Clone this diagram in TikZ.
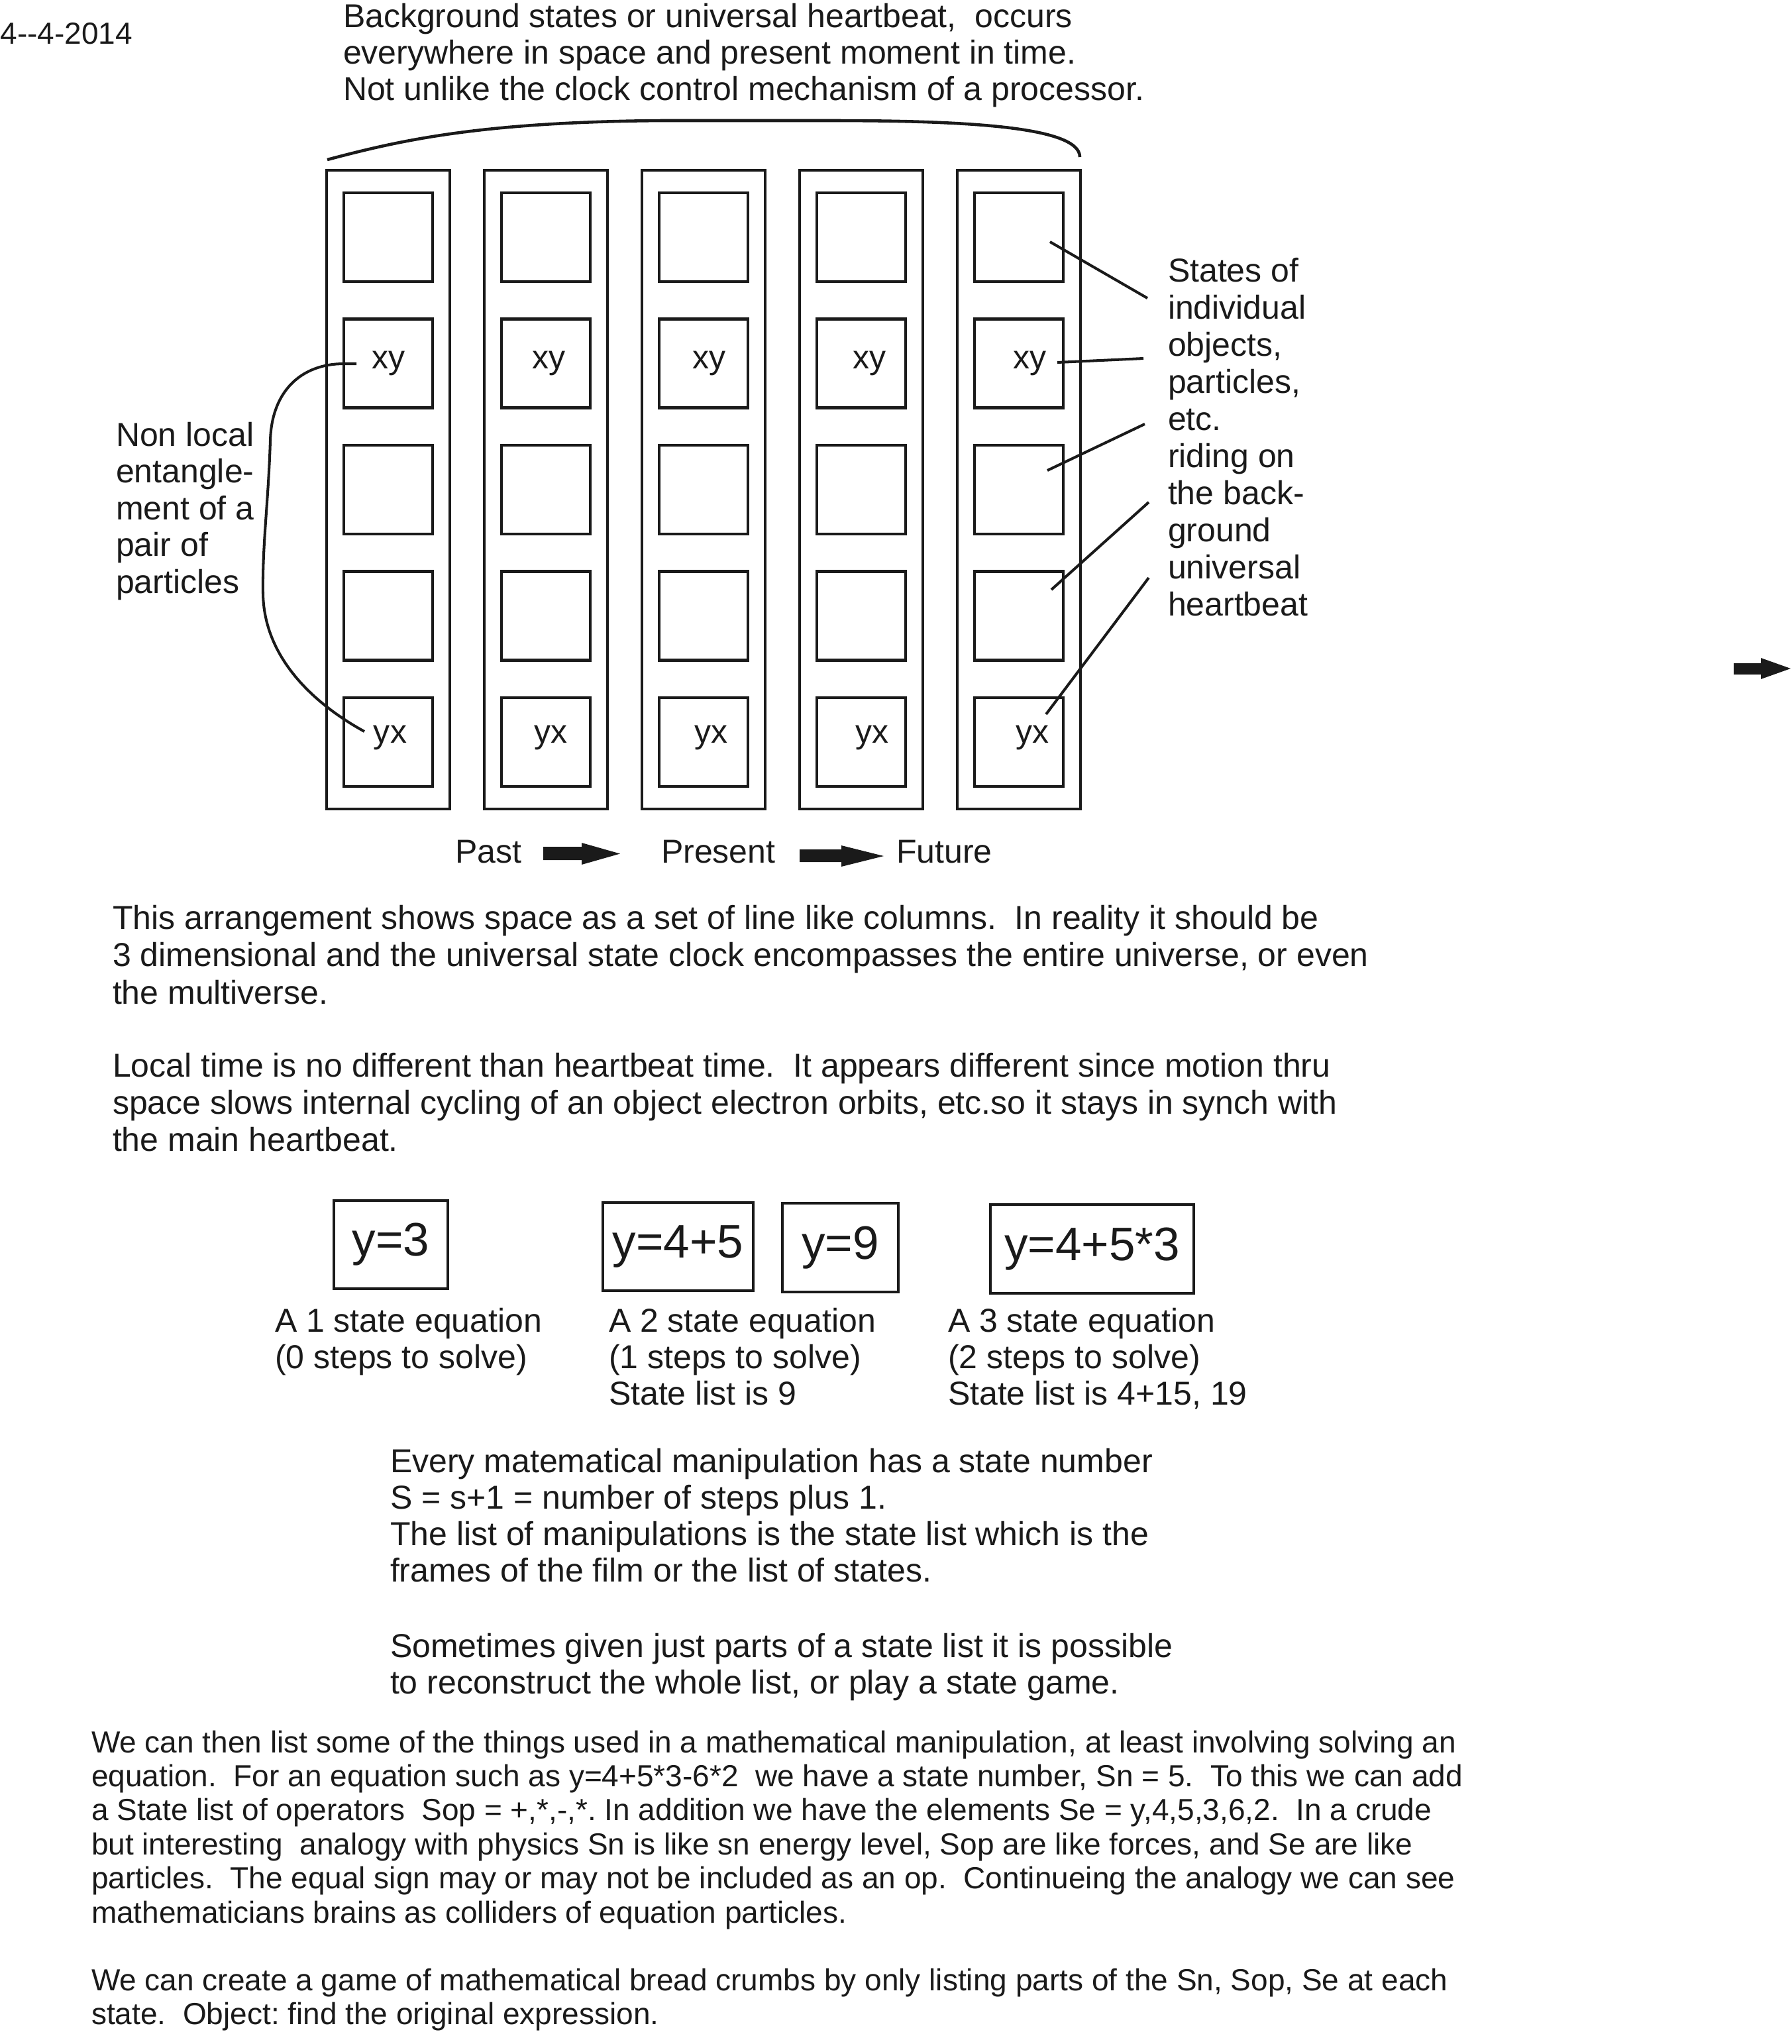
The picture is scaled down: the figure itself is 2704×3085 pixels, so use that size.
\documentclass[tikz,border=0pt]{standalone}
\usepackage{fontspec}
\setmainfont{Liberation Sans}
\newcommand\mainf{\fontsize{14.23pt}{15.9pt}\selectfont\frenchspacing}
\newcommand\smallf{\fontsize{13.09pt}{14.6pt}\selectfont\frenchspacing}
\newcommand\eqf{\fontsize{20.2pt}{22pt}\selectfont}
\definecolor{ink}{HTML}{1A1A1A}
\tikzset{
  txt/.style={anchor=base west, inner sep=0pt, outer sep=0pt, font=\mainf, text=ink},
  smalltxt/.style={anchor=base west, inner sep=0pt, outer sep=0pt, font=\smallf, text=ink},
  lbl/.style={anchor=base, inner sep=0pt, font=\mainf, text=ink},
  outerbox/.style={draw=ink, line width=1.15pt, minimum width=18.6mm, minimum height=96.4mm, inner sep=0pt},
  cellbox/.style={draw=ink, line width=1.15pt, minimum width=13.4mm, minimum height=13.4mm, inner sep=0pt},
  eqbox/.style={draw=ink, line width=1pt, inner sep=0pt, font=\eqf, text=ink},
  lead/.style={draw=ink, line width=1.15pt},
  bigarrow/.style={fill=ink}
}
\begin{document}
\begin{tikzpicture}[x=0.1mm, y=-0.1mm]
\useasboundingbox (0,0) rectangle (2704,3085);
\fill[white] (0,0) rectangle (2704,3085);

% date
\node[anchor=base west, inner sep=0pt, font=\fontsize{13.09pt}{15pt}\selectfont, text=ink] (date) at (0,66) {4{-}{-}4{-}2014};

% header
\foreach \t [count=\i from 0] in {{Background states or universal heartbeat,\ \ occurs},{everywhere in space and present moment in time.},{Not unlike the clock control mechanism of a processor.}}
  \node[txt] (hd\i) at (518,41+\i*55) {\t};

% brace
\draw[lead, line width=1.3pt] (494,241) .. controls (600,213) and (720,184) .. (1000,182) -- (1250,182) .. controls (1450,182) and (1630,190) .. (1630,237);

% columns
\foreach \c in {1,...,5}{
  \node[outerbox] (col\c) at ({586+(\c-1)*238},739) {};
  \foreach \r in {1,...,5}
    \node[cellbox] (b\c-\r) at ({586+(\c-1)*238},{358+(\r-1)*190.5}) {};
}
% labels in cells
\node[lbl] (xy1) at (586,556) {xy};
\node[lbl] (xy2) at (828,556) {xy};
\node[lbl] (xy3) at (1070,556) {xy};
\node[lbl] (xy4) at (1312,556) {xy};
\node[lbl] (xy5) at (1554,556) {xy};
\node[lbl] (yx1) at (589,1121) {yx};
\node[lbl] (yx2) at (831,1121) {yx};
\node[lbl] (yx3) at (1073,1121) {yx};
\node[lbl] (yx4) at (1316,1121) {yx};
\node[lbl] (yx5) at (1558,1121) {yx};

% entanglement curve
\coordinate (ea) at (538,549);
\coordinate (eb) at (550,1104);
\draw[lead] (ea) -- (519,549) .. controls (455,549) and (410,590) .. (408,665) .. controls (405,760) and (396,820) .. (397,895) .. controls (398,990) and (470,1060) .. (eb);

% left annotation
\foreach \t [count=\i from 0] in {{Non local},{entangle-},{ment of a},{pair of},{particles}}
  \node[txt] (nl\i) at (175,673+\i*55.5) {\t};

% right annotation
\foreach \t [count=\i from 0] in {{States of},{individual},{objects,},{particles,},{etc.},{riding on},{the back-},{ground},{universal},{heartbeat}}
  \node[txt] (st\i) at (1763,425+\i*56) {\t};

% leader lines
\coordinate (la1) at (1585,365);  \coordinate (lb1) at (1732,450);
\coordinate (la2) at (1596,547);  \coordinate (lb2) at (1726,541);
\coordinate (la3) at (1581,710);  \coordinate (lb3) at (1728,640);
\coordinate (la4) at (1587,890);  \coordinate (lb4) at (1734,758);
\coordinate (la5) at (1579,1078); \coordinate (lb5) at (1734,872);
\foreach \k in {1,...,5} \draw[lead] (la\k) -- (lb\k);

% past present future
\node[txt] (past) at (687,1302) {Past};
\node[txt] (present) at (998,1302) {Present};
\node[txt] (future) at (1353,1302) {Future};
\fill[bigarrow] (820,1278) -- (878,1278) -- (878,1272) -- (936,1288.5) -- (878,1305) -- (878,1298) -- (820,1298) -- cycle;
\fill[bigarrow] (1207,1282) -- (1270,1282) -- (1270,1276) -- (1334,1292) -- (1270,1308) -- (1270,1301) -- (1207,1301) -- cycle;
% stray arrow at right edge
\fill[bigarrow] (2617,1001) -- (2658,1001) -- (2658,993) -- (2703,1009) -- (2658,1025) -- (2658,1018) -- (2617,1018) -- cycle;

% paragraph A and B
\foreach \t [count=\i from 0] in {{This arrangement shows space as a set of line like columns.\ \ In reality it should be},{3 dimensional and the universal state clock encompasses the entire universe, or even},{the multiverse.}}
  \node[txt] (pa\i) at (170,1402+\i*56.5) {\t};
\foreach \t [count=\i from 0] in {{Local time is no different than heartbeat time.\ \ It appears different since motion thru},{space slows internal cycling of an object electron orbits, etc.so it stays in synch with},{the main heartbeat.}}
  \node[txt] (pb\i) at (170,1625+\i*56) {\t};

% equation boxes
\node[eqbox, minimum width=17.2mm, minimum height=13.3mm] (eq1) at (590,1878.5) {y=3};
\node[eqbox, minimum width=22.7mm, minimum height=13.3mm] (eq2) at (1023.5,1881.5) {y=4+5};
\node[eqbox, minimum width=17.5mm, minimum height=13.4mm] (eq3) at (1268.5,1883) {y=9};
\node[eqbox, minimum width=30.7mm, minimum height=13.4mm] (eq4) at (1648.5,1885) {y=4+5*3};

% equation labels
\foreach \t [count=\i from 0] in {{A 1 state equation},{(0 steps to solve)}}
  \node[txt] (ea\i) at (415,2010+\i*55) {\t};
\foreach \t [count=\i from 0] in {{A 2 state equation},{(1 steps to solve)},{State list is 9}}
  \node[txt] (eb\i) at (919,2010+\i*55) {\t};
\foreach \t [count=\i from 0] in {{A 3 state equation},{(2 steps to solve)},{State list is 4+15, 19}}
  \node[txt] (ec\i) at (1431,2010+\i*55) {\t};

% every paragraph
\foreach \t [count=\i from 0] in {{Every matematical manipulation has a state number},{S = s+1 = number of steps plus 1.},{The list of manipulations is the state list which is the},{frames of the film or the list of states.}}
  \node[txt] (ev\i) at (589,2222+\i*55) {\t};
\foreach \t [count=\i from 0] in {{Sometimes given just parts of a state list it is possible},{to reconstruct the whole list, or play a state game.}}
  \node[txt] (sm\i) at (589,2501+\i*55) {\t};

% bottom paragraphs
\foreach \t [count=\i from 0] in {{We can then list some of the things used in a mathematical manipulation, at least involving solving an},{equation.\ \ For an equation such as y=4+5*3-6*2\ \ we have a state number, Sn = 5.\ \ To this we can add},{a State list of operators\ \ Sop = +,*,-,*. In addition we have the elements Se = y,4,5,3,6,2.\ \ In a crude},{but interesting\ \ analogy with physics Sn is like sn energy level, Sop are like forces, and Se are like},{particles.\ \ The equal sign may or may not be included as an op.\ \ Continueing the analogy we can see},{mathematicians brains as colliders of equation particles.}}
  \node[smalltxt] (bt\i) at (138,2645+\i*51.4) {\t};
\foreach \t [count=\i from 0] in {{We can create a game of mathematical bread crumbs by only listing parts of the Sn, Sop, Se at each},{state.\ \ Object: find the original expression.}}
  \node[smalltxt] (bc\i) at (138,3004+\i*51.4) {\t};
\end{tikzpicture}
\end{document}
